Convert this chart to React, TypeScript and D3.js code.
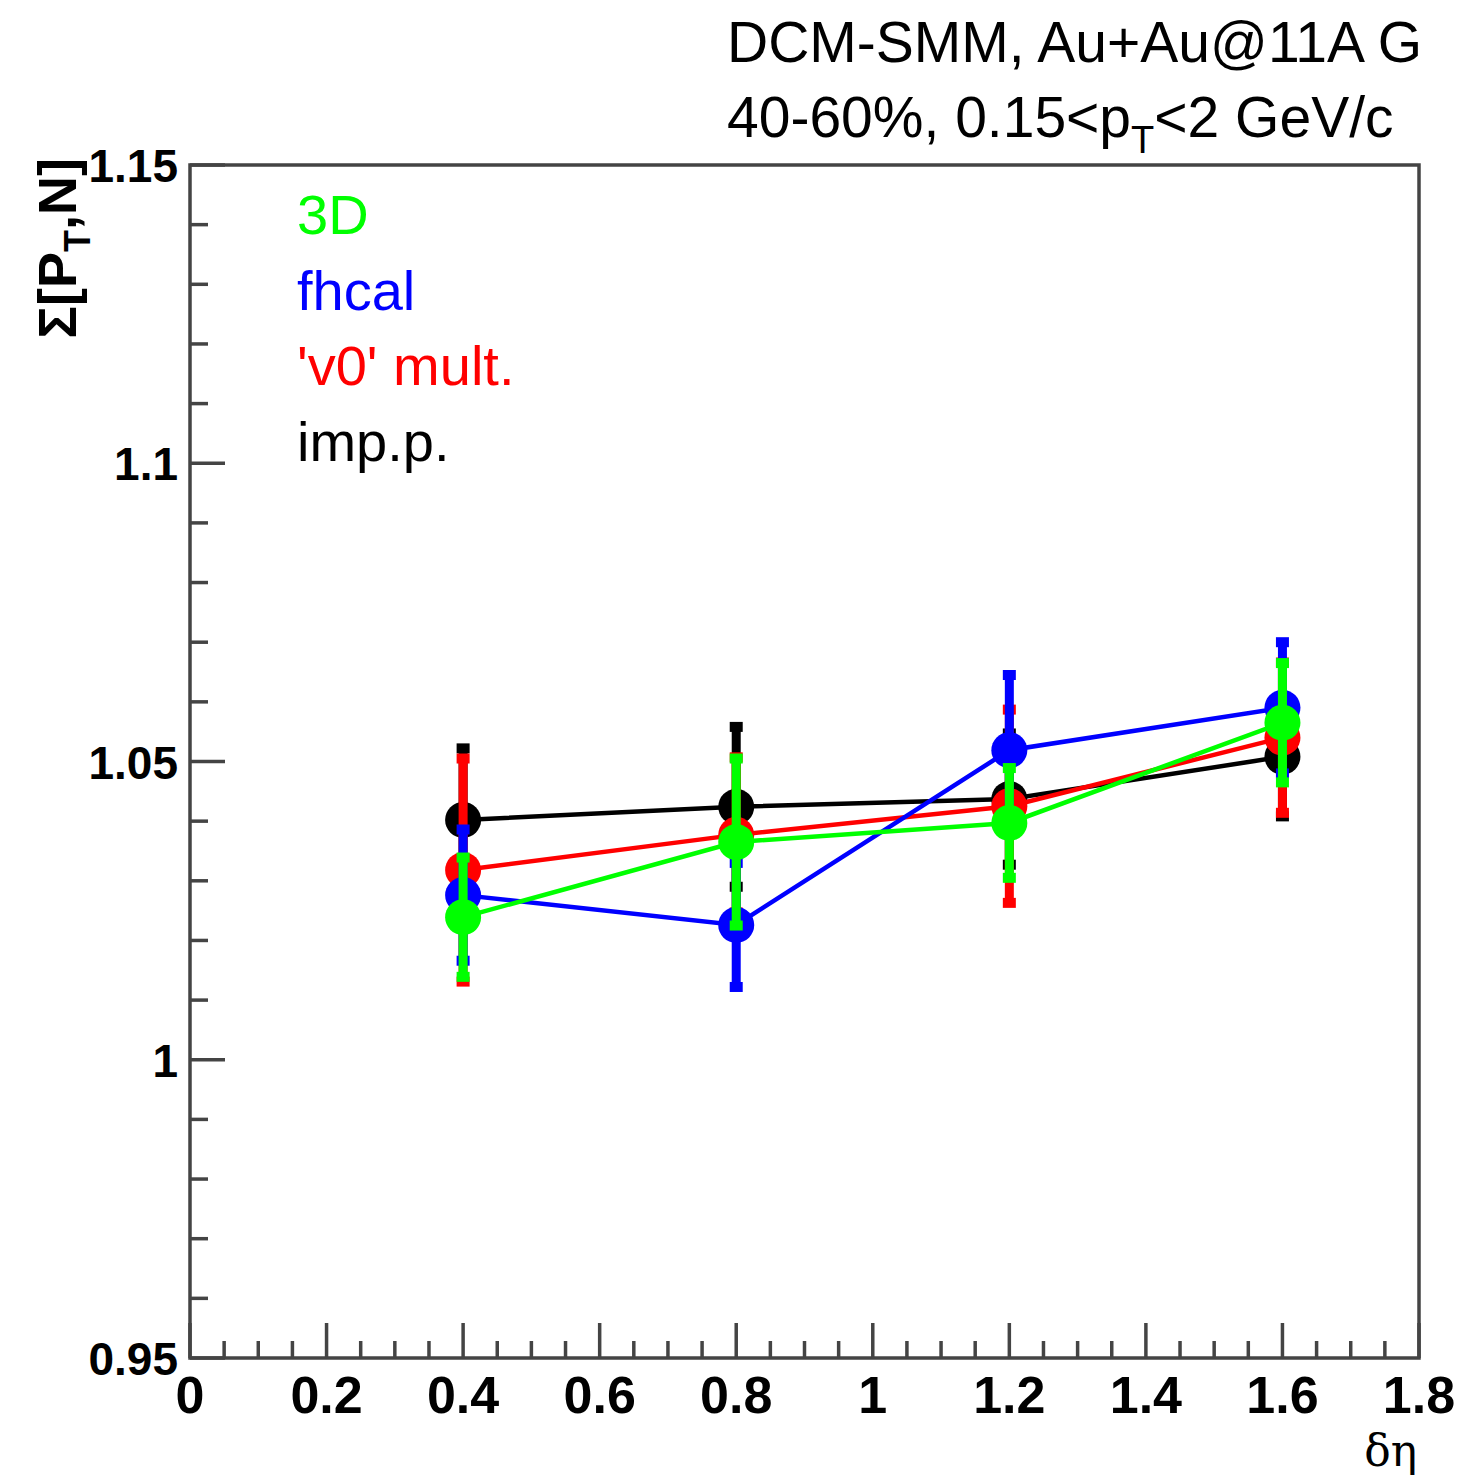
import React from "react";
import * as d3 from "d3";

const xPoints = [0.4, 0.8, 1.2, 1.6];
const seriesNames = ["imp.p.", "'v0' mult.", "fhcal", "3D"];
const seriesColors = ["#000000", "#ff0000", "#0000ff", "#00ff00"];
const impValues = [1.0402, 1.0424, 1.0437, 1.0508];
const impErrors = [0.012, 0.0134, 0.011, 0.010];
const v0Values = [1.0318, 1.0377, 1.0425, 1.054];
const v0Errors = [0.0187, 0.013, 0.0162, 0.0126];
const fhcalValues = [1.0276, 1.0226, 1.0519, 1.059];
const fhcalErrors = [0.011, 0.0104, 0.0126, 0.011];
const d3Values = [1.0239, 1.0365, 1.0397, 1.0565];
const d3Errors = [0.010, 0.014, 0.0092, 0.010];
const xTickLabels = ["0", "0.2", "0.4", "0.6", "0.8", "1", "1.2", "1.4", "1.6", "1.8"];
const yTickLabels = ["0.95", "1", "1.05", "1.1", "1.15"];

const W = 1470, H = 1477;
const left = 190, right = 1419, top = 165, bottom = 1358;
const font = "'Liberation Sans', Arial, Helvetica, sans-serif";

export default function App() {
  const x = d3.scaleLinear().domain([0, 1.8]).range([left, right]);
  const y = d3.scaleLinear().domain([0.95, 1.15]).range([bottom, top]);
  const series = [
    { v: impValues, e: impErrors },
    { v: v0Values, e: v0Errors },
    { v: fhcalValues, e: fhcalErrors },
    { v: d3Values, e: d3Errors },
  ];
  const line = d3.line<number>().x((_, i) => x(xPoints[i])).y((d) => y(d));
  const xMinor = d3.range(0, 36 + 1).map((i) => i * 0.05);
  const yMinor = d3.range(0, 20 + 1).map((i) => 0.95 + i * 0.01);
  const axisColor = "#444";
  const legendOrder = [3, 2, 1, 0];
  return (
    <svg width={W} height={H} style={{ display: "block", position: "absolute", left: 0, top: 0 }}>
      <rect x={0} y={0} width={W} height={H} fill="#fff" />
      {/* frame */}
      <rect x={left} y={top} width={right - left} height={bottom - top} fill="none" stroke={axisColor} strokeWidth={3.5} />
      {/* x ticks */}
      {xMinor.map((t, i) => (
        <line key={"xm" + i} x1={x(t)} x2={x(t)} y1={bottom} y2={bottom - (i % 4 === 0 ? 35 : 17)} stroke={axisColor} strokeWidth={3.5} />
      ))}
      {yMinor.map((t, i) => (
        <line key={"ym" + i} x1={left} x2={left + (i % 5 === 0 ? 35 : 18)} y1={y(t)} y2={y(t)} stroke={axisColor} strokeWidth={3.5} />
      ))}
      {xTickLabels.map((l, i) => (
        <text key={"xl" + i} x={x(i * 0.2)} y={1413} textAnchor="middle" fontFamily={font} fontWeight="bold" fontSize={52} fill="#000">{l}</text>
      ))}
      {yTickLabels.map((l, i) => (
        <text key={"yl" + i} x={178} y={y(0.95 + i * 0.05) + 17} textAnchor="end" fontFamily={font} fontWeight="bold" fontSize={46} fill="#000">{l}</text>
      ))}
      <text x={1417} y={1466} textAnchor="end" fontFamily="'DejaVu Serif', 'Liberation Serif', serif" fontSize={44} fill="#000">δη</text>
      <text transform={`translate(76, 158) rotate(-90)`} textAnchor="end" fontFamily={font} fontWeight="bold" fontSize={54} fill="#000">
        Σ[P<tspan fontSize={36} dy={14}>T</tspan><tspan dy={-14}>,N]</tspan>
      </text>
      {/* header */}
      <text x={727} y={62} fontFamily={font} fontSize={57} fill="#000">DCM-SMM, Au+Au@11A G</text>
      <text x={727} y={137} fontFamily={font} fontSize={57} fill="#000">
        40-60%, 0.15&lt;p<tspan fontSize={38} dy={16}>T</tspan><tspan dy={-16}>&lt;2 GeV/c</tspan>
      </text>
      {/* series */}
      {series.map((s, si) => (
        <g key={"s" + si}>
          <path d={line(s.v) || ""} fill="none" stroke={seriesColors[si]} strokeWidth={4.5} />
          {s.v.map((v, i) => (
            <g key={i}>
              <line x1={x(xPoints[i])} x2={x(xPoints[i])} y1={y(v - s.e[i])} y2={y(v + s.e[i])} stroke={seriesColors[si]} strokeWidth={9} />
              <rect x={x(xPoints[i]) - 6.5} y={y(v + s.e[i]) - 5} width={13} height={10} fill={seriesColors[si]} />
              <rect x={x(xPoints[i]) - 6.5} y={y(v - s.e[i]) - 5} width={13} height={10} fill={seriesColors[si]} />
              <circle cx={x(xPoints[i])} cy={y(v)} r={18} fill={seriesColors[si]} />
            </g>
          ))}
        </g>
      ))}
      {/* legend */}
      {legendOrder.map((si, k) => (
        <text key={"lg" + k} x={297} y={234 + k * 75.7} fontFamily={font} fontSize={56} fill={seriesColors[si]}>{seriesNames[si]}</text>
      ))}
    </svg>
  );
}
